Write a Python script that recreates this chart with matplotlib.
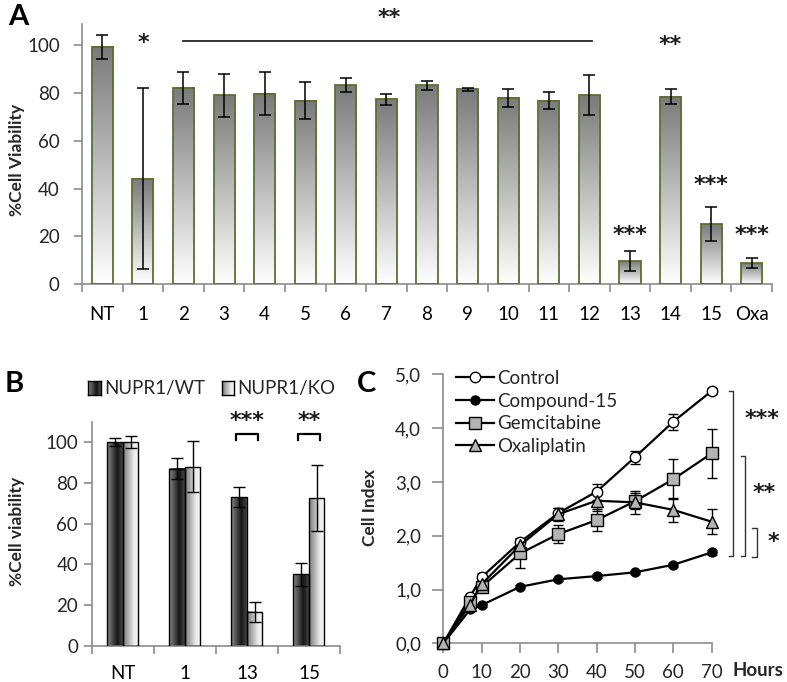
import numpy as np
import matplotlib.pyplot as plt
from matplotlib.colors import LinearSegmentedColormap
from matplotlib.patches import Rectangle

plt.rcParams['font.family'] = ['Lato', 'DejaVu Sans']
plt.rcParams['font.size'] = 13.5

# panel A data
a_labels = ['NT', '1', '2', '3', '4', '5', '6', '7', '8', '9', '10', '11', '12', '13', '14', '15', 'Oxa']
a_values = [99.5, 44.1, 82.2, 79.1, 79.7, 76.9, 83.3, 77.4, 83.3, 81.6, 78.0, 76.9, 79.1, 9.5, 78.6, 25.1, 8.8]
a_errors = [5.0, 38.0, 6.6, 9.0, 9.0, 7.7, 3.0, 2.3, 2.0, 0.5, 3.6, 3.5, 8.4, 4.2, 3.0, 7.1, 2.0]
a_stars = {1: '*', 13: '***', 14: '**', 15: '***', 16: '***'}
a_star_y = {1: 101, 13: 20.5, 14: 100, 15: 41.6, 16: 20.5}

# panel B data
b_labels = ['NT', '1', '13', '15']
b_wt = [100.0, 87.0, 73.0, 35.0]
b_wt_err = [2.0, 5.0, 5.0, 5.5]
b_ko = [100.0, 87.8, 16.7, 72.5]
b_ko_err = [3.0, 12.5, 5.0, 16.0]

# panel C data
c_hours = [0, 7, 10, 20, 30, 40, 50, 60, 70]
c_control = [0.0, 0.87, 1.23, 1.88, 2.42, 2.82, 3.46, 4.12, 4.69]
c_control_err = [0.0, 0.05, 0.08, 0.08, 0.1, 0.15, 0.12, 0.15, 0.05]
c_compound = [0.0, 0.63, 0.71, 1.05, 1.19, 1.25, 1.32, 1.46, 1.69]
c_compound_err = [0.0, 0.03, 0.03, 0.03, 0.03, 0.03, 0.03, 0.04, 0.05]
c_gem = [0.0, 0.77, 1.05, 1.67, 2.03, 2.29, 2.64, 3.05, 3.53]
c_gem_err = [0.0, 0.05, 0.08, 0.27, 0.17, 0.2, 0.15, 0.37, 0.45]
c_oxa = [0.0, 0.72, 1.1, 1.82, 2.4, 2.65, 2.62, 2.48, 2.26]
c_oxa_err = [0.0, 0.05, 0.08, 0.1, 0.12, 0.2, 0.22, 0.23, 0.23]

axis_col = '#8c8c8c'
txt_col = '#262626'
edge_a = '#5e7030'
star_font = dict(family='DejaVu Sans', fontsize=16, fontweight='bold', color='#1a1a1a')

cmap_a = LinearSegmentedColormap.from_list('a', ['#ffffff', '#7a7a7a'])
cmap_wt = LinearSegmentedColormap.from_list('wt', [(0, '#8a8a8a'), (0.65, '#151515'), (1, '#4a4a4a')])
cmap_ko = LinearSegmentedColormap.from_list('ko', [(0, '#7a7a7a'), (0.7, '#ececec'), (1, '#f8f8f8')])

vgrad = np.linspace(0, 1, 256).reshape(-1, 1)
hgrad = np.linspace(0, 1, 256).reshape(1, -1)


def grad_bar(ax, x, w, h, grad, cmap, edge, lw):
    ax.imshow(grad, extent=[x - w / 2, x + w / 2, 0, h], origin='lower',
              aspect='auto', cmap=cmap, zorder=2, interpolation='bilinear')
    ax.add_patch(Rectangle((x - w / 2, 0), w, h, fill=False, edgecolor=edge, lw=lw, zorder=3))


def style_axes(ax):
    for s in ['top', 'right']:
        ax.spines[s].set_visible(False)
    for s in ['left', 'bottom']:
        ax.spines[s].set_color(axis_col)
        ax.spines[s].set_linewidth(1.2)
    ax.tick_params(colors=axis_col, labelcolor=txt_col, width=1.2)


fig = plt.figure(figsize=(7.87, 6.82), dpi=100)

# ---------------- A
ax1 = fig.add_axes([0.1042, 0.5836, 0.8768, 0.3812])
xa = np.arange(len(a_labels))
for i in xa:
    grad_bar(ax1, i, 0.52, a_values[i], vgrad, cmap_a, edge_a, 1.3)
ax1.errorbar(xa, a_values, yerr=a_errors, fmt='none', ecolor='black', elinewidth=1.1,
             capsize=4.5, capthick=1.1, zorder=4)
ax1.set_xlim(-0.5, len(a_labels) - 0.5)
ax1.set_ylim(0, 109)
ax1.set_yticks([0, 20, 40, 60, 80, 100])
ax1.set_xticks(np.arange(-0.5, len(a_labels)), labels=[])
ax1.set_xticks(xa, labels=a_labels, minor=True)
ax1.tick_params(axis='x', which='major', length=6, direction='out')
ax1.tick_params(axis='x', which='minor', length=0, pad=16)
ax1.tick_params(axis='y', length=6, pad=10)
style_axes(ax1)
ax1.set_ylabel('%Cell Viability', fontsize=12.5, fontweight='bold', color=txt_col)
ax1.yaxis.set_label_coords(-0.083, 0.477)
for i, s in a_stars.items():
    ax1.text(i, a_star_y[i], s, ha='center', va='center', **star_font)
ax1.plot([1.99, 12.06], [102, 102], color='#222222', lw=1.3, clip_on=False)
ax1.text(7.06, 111.5, '**', ha='center', va='center', clip_on=False, **star_font)
fig.text(0.010, 1 - 17 / 682, 'A', fontsize=21, fontweight='bold', va='center')

# ---------------- B
ax2 = fig.add_axes([0.1169, 0.0532, 0.3151, 0.3285])
xb = np.arange(len(b_labels))
for i in xb:
    grad_bar(ax2, i - 0.125, 0.25, b_wt[i], hgrad, cmap_wt, 'black', 1.0)
    grad_bar(ax2, i + 0.125, 0.25, b_ko[i], hgrad, cmap_ko, 'black', 1.0)
ax2.errorbar(xb - 0.125, b_wt, yerr=b_wt_err, fmt='none', ecolor='black', elinewidth=1.0,
             capsize=4.5, capthick=1.0, zorder=4)
ax2.errorbar(xb + 0.125, b_ko, yerr=b_ko_err, fmt='none', ecolor='black', elinewidth=1.0,
             capsize=4.5, capthick=1.0, zorder=4)
ax2.set_xlim(-0.5, len(b_labels) - 0.5)
ax2.set_ylim(0, 110)
ax2.set_yticks([0, 20, 40, 60, 80, 100])
ax2.set_xticks(np.arange(-0.5, len(b_labels)), labels=[])
ax2.set_xticks(xb, labels=b_labels, minor=True)
ax2.tick_params(axis='x', which='major', length=6, direction='out')
ax2.tick_params(axis='x', which='minor', length=0, pad=14)
ax2.tick_params(axis='y', length=6, pad=4)
style_axes(ax2)
ax2.set_ylabel('%Cell viability', fontsize=12.5, fontweight='bold', color=txt_col)
ax2.yaxis.set_label_coords(-0.27, 0.509)
for i, s in [(2, '***'), (3, '**')]:
    x0, x1 = i - 0.17, i + 0.17
    ax2.plot([x0, x0, x1, x1], [101, 104, 104, 101], color='black', lw=1.6, clip_on=False)
    ax2.text(i, 110.5, s, ha='center', va='center', clip_on=False, **star_font)
# legend squares
for (px, cm, label) in [(88.3, cmap_wt, 'NUPR1/WT'), (221.7, cmap_ko, 'NUPR1/KO')]:
    sq = fig.add_axes([px / 787, 1 - 395 / 682, 12.5 / 787, 14 / 682])
    sq.imshow(hgrad, aspect='auto', cmap=cm)
    sq.set_xticks([])
    sq.set_yticks([])
    for s in sq.spines.values():
        s.set_color('black')
        s.set_linewidth(1.0)
    fig.text((px + 16) / 787, 1 - 388 / 682, label, fontsize=13.5, va='center', color=txt_col)
fig.text(0.006, 1 - 384 / 682, 'B', fontsize=21, fontweight='bold', va='center')

# ---------------- C
ax3 = fig.add_axes([0.5633, 0.0567, 0.3410, 0.3945])
series = [
    (c_control, c_control_err, 'Control', 'o', 'white', 7.5),
    (c_compound, c_compound_err, 'Compound-15', 'o', 'black', 6.5),
    (c_gem, c_gem_err, 'Gemcitabine', 's', '#b4b4b4', 8),
    (c_oxa, c_oxa_err, 'Oxaliplatin', '^', '#b4b4b4', 8.5),
]
for vals, errs, label, mk, fc, ms in series:
    ax3.errorbar(c_hours, vals, yerr=errs, color='black', lw=1.6, marker=mk, ms=ms,
                 mfc=fc, mec='black', mew=1.0, ecolor='black', elinewidth=1.0,
                 capsize=3.5, capthick=1.0, label=label, clip_on=False, zorder=3)
ax3.set_xlim(0, 70)
ax3.set_ylim(0, 5)
ax3.set_xticks(range(0, 71, 10))
ax3.set_yticks(np.arange(0, 5.1, 1.0))
ax3.set_yticklabels([f'{v:.1f}'.replace('.', ',') for v in np.arange(0, 5.1, 1.0)])
ax3.tick_params(axis='x', length=7, pad=8)
ax3.tick_params(axis='y', length=8, pad=8)
style_axes(ax3)
ax3.set_ylabel('Cell Index', fontsize=12.5, fontweight='bold', color=txt_col)
ax3.yaxis.set_label_coords(-0.243, 0.503)
handles, labels = ax3.get_legend_handles_labels()
handles = [h[0] for h in handles]
leg = ax3.legend(handles, labels, loc='upper left', bbox_to_anchor=(0.0, 1.065), frameon=False,
                 handlelength=2.0, handletextpad=0.15, labelspacing=0.3, borderaxespad=0.3,
                 fontsize=13.5)
for t in leg.get_texts():
    t.set_color(txt_col)
# significance brackets
for xb_, y0, y1, s, sx, sy in [(75.6, 4.69, 1.62, '***', 83.2, 4.16),
                                (78.7, 3.49, 1.62, '**', 83.6, 2.79),
                                (81.7, 2.14, 1.60, '*', 86.2, 1.89)]:
    ax3.plot([xb_ - 1.1, xb_, xb_, xb_ - 1.1], [y0, y0, y1, y1], color='#333333', lw=1.0, clip_on=False)
    ax3.text(sx, sy, s, ha='center', va='center', clip_on=False, **star_font)
ax3.text(75.4, -0.5, 'Hours', ha='left', va='center', fontsize=13.5, fontweight='bold', color=txt_col)
fig.text(0.454, 1 - 384 / 682, 'C', fontsize=21, fontweight='bold', va='center')

fig.savefig('out.png', dpi=100)
